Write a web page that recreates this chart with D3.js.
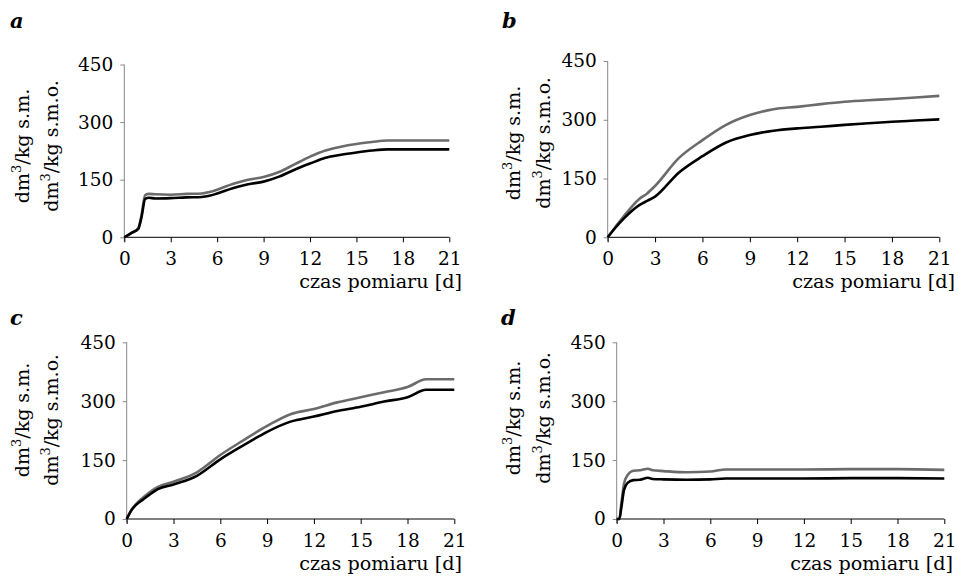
<!DOCTYPE html>
<html><head><meta charset="utf-8">
<script src="https://cdn.jsdelivr.net/npm/d3@7"></script>
<style>
html,body{margin:0;padding:0;background:#fff;}
svg{display:block;font-family:"DejaVu Serif",serif;}
</style></head>
<body>
<svg id="c" width="958" height="583"></svg>
<script>
// ---- data (days, values in dm3/kg) ----
const xTicks = [0, 3, 6, 9, 12, 15, 18, 21];
const yTicks = [0, 150, 300, 450];
const panelLetters = ["a", "b", "c", "d"];
const xTitle = "czas pomiaru [d]";

const daysA = [0,0.5,0.9,1.1,1.35,1.6,2,3,4,5,5.5,6,7,8,9,10,11,12,13,14,15,16,17,21];
const smA   = [0,12,22,50,100,103,101,102,104,105,108,114,128,138,145,158,176,192,207,215,221,226,229,229];
const smoA  = [0,12,23,55,110,113,112,111,113,114,118,124,139,150,157,170,190,210,226,236,243,248,252,252];

const daysB = [0,0.5,1,2,2.5,3,4.5,6,7.5,9,10.5,12,13.5,15,16.5,18,19.5,21];
const smB   = [0,25,47,82,93,104,165,207,242,261,272,278,282,287,291,295,298,301];
const smoB  = [0,27,53,98,112,131,202,248,287,312,327,333,340,346,350,353,357,361];

const daysC = [0,0.3,0.6,1,2,3,4.5,6,7.5,9,10.5,12,13.5,15,16.5,18,19.2,21];
const smC   = [0,22,36,48,76,88,110,152,188,222,248,261,275,286,299,310,329,329];
const smoC  = [0,23,38,53,82,95,119,163,201,237,267,280,297,310,323,336,356,356];

const daysD = [0,0.17,0.3,0.47,0.7,1.07,1.5,2,2.3,3,4.5,6,7,9,12,15,18,21];
const smD   = [0,0,30,74,92,99,100,105,102,101,100,101,103,103,103,104,104,103];
const smoD  = [0,0,40,90,112,123,124,128,124,122,119,121,126,126,126,127,127,125];

const panels = [
  {days: daysA, sm: smA, smo: smoA},
  {days: daysB, sm: smB, smo: smoB},
  {days: daysC, sm: smC, smo: smoC},
  {days: daysD, sm: smD, smo: smoD}
];

// ---- layout ----
const layout = [
  {l:124.3, r:449.3, t:64.5, b:237.3, lx:10,  ly:28,  y1:29,  y2:58,  yc:146, tr:462},
  {l:607.7, r:939.3, t:61,   b:237.3, lx:502, ly:28,  y1:520, y2:550, yc:143, tr:955},
  {l:126.7, r:454.3, t:342.3,b:519,   lx:10,  ly:325, y1:29,  y2:58,  yc:420, tr:462},
  {l:616.7, r:944.3, t:342.3,b:519,   lx:501, ly:325, y1:520, y2:550, yc:418, tr:953}
];

const svg = d3.select("#c");
const FS = 18.5;

panels.forEach((p, i) => {
  const L = layout[i];
  const x = d3.scaleLinear().domain([0, 21]).range([L.l, L.r]);
  const y = d3.scaleLinear().domain([0, 450]).range([L.b, L.t]);
  const g = svg.append("g");

  // y axis (gray)
  const ya = g.append("g").attr("transform", `translate(${L.l},0)`)
    .call(d3.axisLeft(y).tickValues(yTicks).tickSize(4).tickPadding(7).tickFormat(d3.format("d")));
  ya.select(".domain").remove();
  ya.selectAll(".tick line").attr("stroke", "#888");
  ya.selectAll("text").attr("font-size", FS).attr("font-family", "DejaVu Serif").attr("fill", "#000");
  g.append("line").attr("x1", L.l).attr("x2", L.l).attr("y1", L.t).attr("y2", L.b + 4)
    .attr("stroke", "#888").attr("stroke-width", 1);

  // x axis (black)
  const xa = g.append("g").attr("transform", `translate(0,${L.b})`)
    .call(d3.axisBottom(x).tickValues(xTicks).tickSize(5).tickPadding(10).tickFormat(d3.format("d")));
  xa.select(".domain").remove();
  xa.selectAll(".tick line").attr("stroke", "#000");
  xa.selectAll("text").attr("font-size", FS).attr("font-family", "DejaVu Serif").attr("fill", "#000");
  g.append("line").attr("x1", L.l).attr("x2", L.r).attr("y1", L.b).attr("y2", L.b)
    .attr("stroke", "#000").attr("stroke-width", 1);

  // x title
  g.append("text").attr("x", L.tr).attr("y", L.b + 51).attr("text-anchor", "end")
    .attr("font-size", 19.2).text(xTitle);

  // panel letter
  g.append("text").attr("x", L.lx).attr("y", L.ly).attr("font-size", 21)
    .attr("font-weight", "bold").attr("font-style", "italic").text(panelLetters[i]);

  // y label two lines
  [[L.y1, "s.m."], [L.y2, "s.m.o."]].forEach(([bx, suf]) => {
    const t = g.append("text").attr("transform", `translate(${bx},${L.yc}) rotate(-90)`)
      .attr("text-anchor", "middle").attr("font-size", 19);
    t.append("tspan").text("dm");
    t.append("tspan").attr("dy", -8).attr("font-size", 13).text("3");
    t.append("tspan").attr("dy", 8).text("/kg " + suf);
  });

  // lines
  const line = d3.line().curve(d3.curveMonotoneX)
    .x((d, k) => x(p.days[k])).y(d => y(d));
  g.append("path").datum(p.smo).attr("d", line).attr("fill", "none")
    .attr("stroke", "#6b6b6b").attr("stroke-width", 2.6);
  g.append("path").datum(p.sm).attr("d", line).attr("fill", "none")
    .attr("stroke", "#000").attr("stroke-width", 2.6);
});
</script>
</body></html>
